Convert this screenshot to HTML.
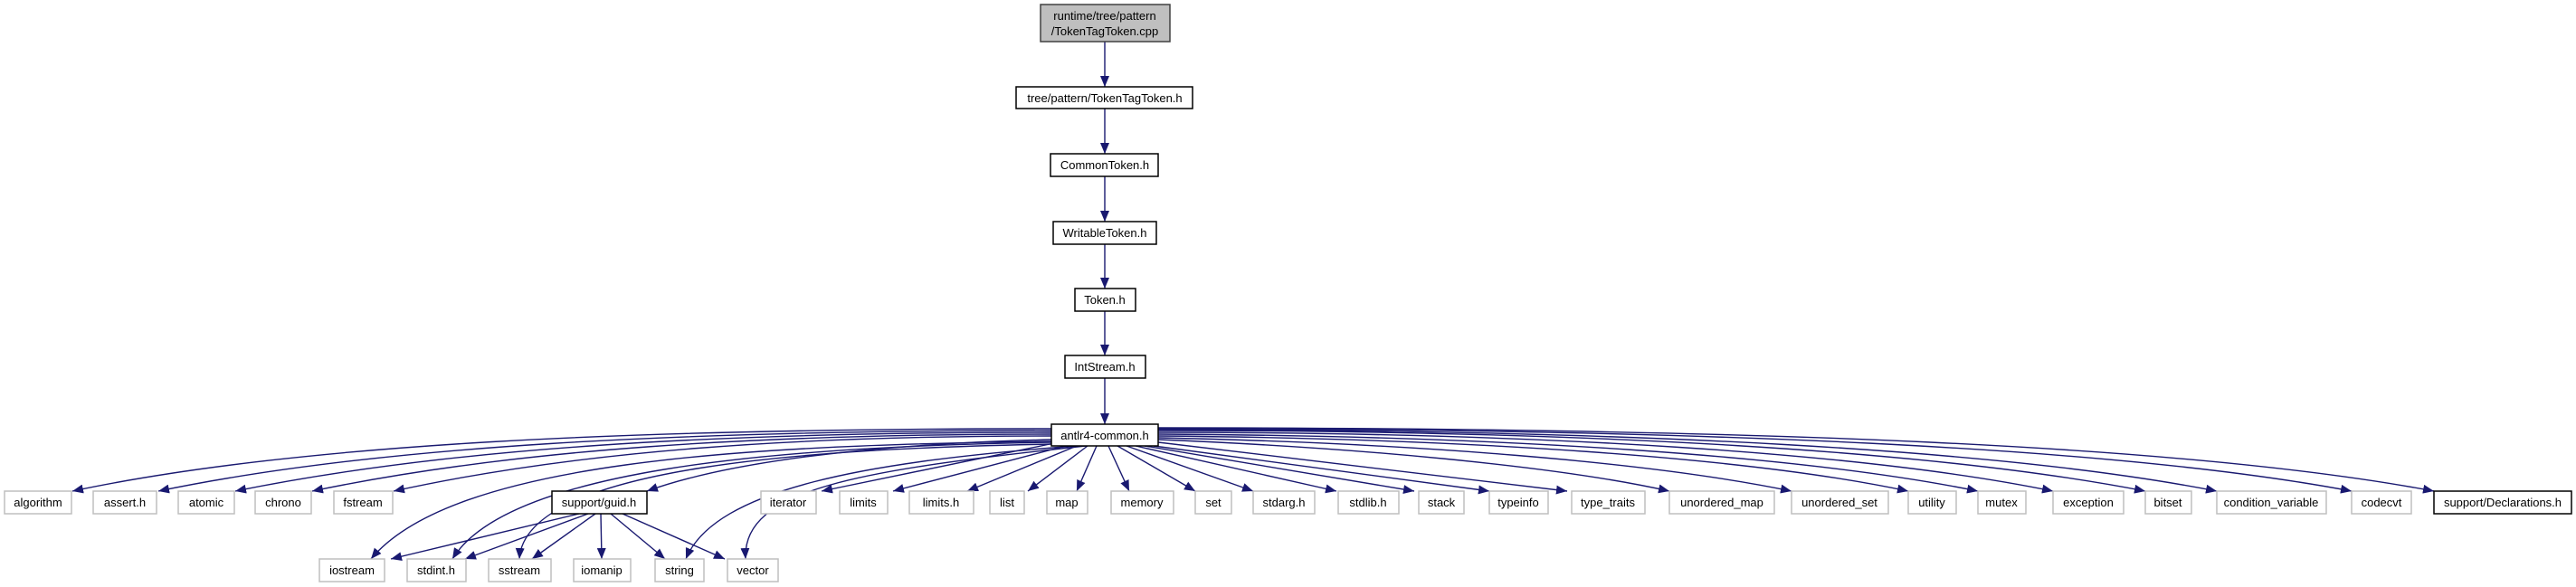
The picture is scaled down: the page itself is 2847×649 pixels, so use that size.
<!DOCTYPE html>
<html><head><meta charset="utf-8"><style>
html,body{margin:0;padding:0;background:#fff;}
svg{display:block;}
text{font-family:"Liberation Sans",Arial,sans-serif;font-size:13px;fill:#000;}
.n{fill:#fff;stroke:#000;stroke-width:1.5}
.g{fill:#fff;stroke:#bfbfbf;stroke-width:1.5}
.e{fill:none;stroke:#191970;stroke-width:1.4}
</style></head><body>
<svg width="2847" height="649" viewBox="0 0 2847 649" xmlns="http://www.w3.org/2000/svg">
<defs><marker id="a" markerUnits="userSpaceOnUse" markerWidth="13" markerHeight="11" refX="12" refY="5" orient="auto"><path d="M0,0 L12,5 L0,10 z" fill="#191970"/></marker></defs>
<g class="e" marker-end="url(#a)">
<path d="M1221,46 L1221,96"/><path d="M1221,120 L1221,170"/><path d="M1221,195 L1221,245"/><path d="M1221,270 L1221,319"/><path d="M1221,344 L1221,393"/><path d="M1221,418 L1221,469"/>
<path d="M1162,474 C700,474 330,490 80,543"/>
<path d="M1162,476 C760,476 420,492 175,543"/>
<path d="M1162,478 C800,478 500,494 260,543"/>
<path d="M1162,480 C840,480 570,496 345,543"/>
<path d="M1162,482 C880,482 640,498 435,543"/>
<path d="M1162,486 C1000,490 820,505 715,543"/>
<path d="M1162,488 C820,492 500,510 410,618"/>
<path d="M1162,489 C850,494 560,520 500,618"/>
<path d="M1162,491 C900,496 580,515 574,618"/>
<path d="M1190,493 C960,510 790,540 758,618"/>
<path d="M1200,493 C950,520 820,540 824,618"/>
<path d="M640,568 L432,618"/><path d="M650,568 L514,618"/><path d="M658,568 L588,618"/><path d="M664,568 L665,618"/><path d="M675,568 L735,618"/><path d="M688,568 L801,618"/>
<path d="M1165,490 L908,543"/><path d="M1178,493 L987,543"/><path d="M1190,493 L1069,543"/><path d="M1202,493 L1136,543"/><path d="M1212,493 L1190,543"/>
<path d="M1225,493 L1248,543"/><path d="M1235,493 L1321,543"/><path d="M1245,493 L1385,543"/><path d="M1255,493 L1477,543"/><path d="M1265,493 L1563,543"/><path d="M1275,493 L1646,543"/><path d="M1280,489 L1732,543"/>
<path d="M1280,486 C1500,495 1720,515 1845,543"/>
<path d="M1280,484 C1560,490 1820,510 1980,543"/>
<path d="M1280,482 C1620,485 1930,505 2109,543"/>
<path d="M1280,480 C1660,482 1990,503 2186,543"/>
<path d="M1280,478 C1700,478 2060,500 2269,543"/>
<path d="M1280,476 C1760,476 2140,498 2371,543"/>
<path d="M1280,475 C1800,475 2210,496 2450,543"/>
<path d="M1280,474 C1880,474 2340,494 2599,543"/>
<path d="M1280,473 C1940,473 2420,492 2690,543"/>
</g>
<rect x="1150" y="5" width="143" height="41" fill="#bfbfbf" stroke="#404040" stroke-width="1.5"/>
<text x="1221" y="22" text-anchor="middle">runtime/tree/pattern</text>
<text x="1221" y="39" text-anchor="middle">/TokenTagToken.cpp</text>
<g text-anchor="middle">
<rect class="n" x="1123" y="96" width="195" height="24"/><text x="1221" y="113">tree/pattern/TokenTagToken.h</text>
<rect class="n" x="1161" y="170" width="119" height="25"/><text x="1221" y="187">CommonToken.h</text>
<rect class="n" x="1164" y="245" width="114" height="25"/><text x="1221" y="262">WritableToken.h</text>
<rect class="n" x="1188" y="319" width="67" height="25"/><text x="1221" y="336">Token.h</text>
<rect class="n" x="1177" y="393" width="89" height="25"/><text x="1221" y="410">IntStream.h</text>
<rect class="n" x="1162" y="469" width="118" height="24"/><text x="1221" y="486">antlr4-common.h</text>

<rect class="g" x="5" y="543" width="74" height="25"/><text x="42" y="560">algorithm</text>
<rect class="g" x="103" y="543" width="70" height="25"/><text x="138" y="560">assert.h</text>
<rect class="g" x="197" y="543" width="62" height="25"/><text x="228" y="560">atomic</text>
<rect class="g" x="282" y="543" width="62" height="25"/><text x="313" y="560">chrono</text>
<rect class="g" x="369" y="543" width="65" height="25"/><text x="401" y="560">fstream</text>
<rect class="n" x="610" y="543" width="105" height="25"/><text x="662" y="560">support/guid.h</text>
<rect class="g" x="841" y="543" width="61" height="25"/><text x="871" y="560">iterator</text>
<rect class="g" x="928" y="543" width="53" height="25"/><text x="954" y="560">limits</text>
<rect class="g" x="1005" y="543" width="71" height="25"/><text x="1040" y="560">limits.h</text>
<rect class="g" x="1094" y="543" width="38" height="25"/><text x="1113" y="560">list</text>
<rect class="g" x="1157" y="543" width="45" height="25"/><text x="1179" y="560">map</text>
<rect class="g" x="1228" y="543" width="69" height="25"/><text x="1262" y="560">memory</text>
<rect class="g" x="1321" y="543" width="40" height="25"/><text x="1341" y="560">set</text>
<rect class="g" x="1385" y="543" width="68" height="25"/><text x="1419" y="560">stdarg.h</text>
<rect class="g" x="1479" y="543" width="67" height="25"/><text x="1512" y="560">stdlib.h</text>
<rect class="g" x="1568" y="543" width="50" height="25"/><text x="1593" y="560">stack</text>
<rect class="g" x="1646" y="543" width="65" height="25"/><text x="1678" y="560">typeinfo</text>
<rect class="g" x="1737" y="543" width="81" height="25"/><text x="1777" y="560">type_traits</text>
<rect class="g" x="1845" y="543" width="116" height="25"/><text x="1903" y="560">unordered_map</text>
<rect class="g" x="1980" y="543" width="107" height="25"/><text x="2033" y="560">unordered_set</text>
<rect class="g" x="2109" y="543" width="53" height="25"/><text x="2135" y="560">utility</text>
<rect class="g" x="2186" y="543" width="53" height="25"/><text x="2212" y="560">mutex</text>
<rect class="g" x="2269" y="543" width="78" height="25"/><text x="2308" y="560">exception</text>
<rect class="g" x="2371" y="543" width="51" height="25"/><text x="2396" y="560">bitset</text>
<rect class="g" x="2450" y="543" width="121" height="25"/><text x="2510" y="560">condition_variable</text>
<rect class="g" x="2599" y="543" width="66" height="25"/><text x="2632" y="560">codecvt</text>
<rect class="n" x="2690" y="543" width="152" height="25"/><text x="2766" y="560">support/Declarations.h</text>

<rect class="g" x="353" y="618" width="72" height="25"/><text x="389" y="635">iostream</text>
<rect class="g" x="450" y="618" width="65" height="25"/><text x="482" y="635">stdint.h</text>
<rect class="g" x="540" y="618" width="69" height="25"/><text x="574" y="635">sstream</text>
<rect class="g" x="634" y="618" width="63" height="25"/><text x="665" y="635">iomanip</text>
<rect class="g" x="724" y="618" width="54" height="25"/><text x="751" y="635">string</text>
<rect class="g" x="804" y="618" width="56" height="25"/><text x="832" y="635">vector</text>
</g>
</svg>
</body></html>
